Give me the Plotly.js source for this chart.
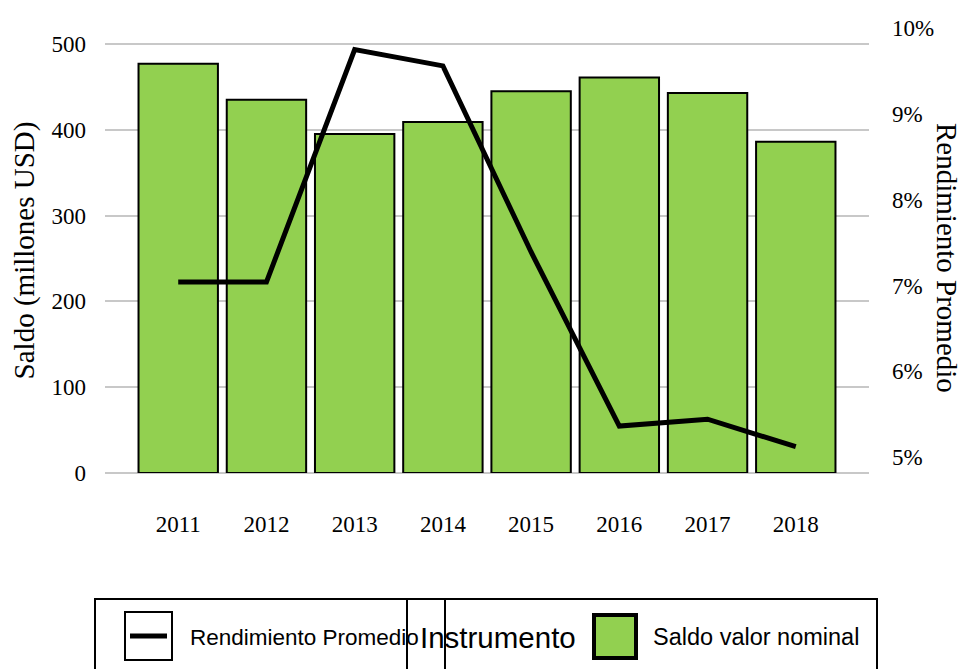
<!DOCTYPE html>
<html>
<head>
<meta charset="utf-8">
<script src="https://cdn.plot.ly/plotly-3.0.1.min.js"></script>
<style>html,body{margin:0;padding:0;background:#fff;}#chart{width:963px;height:669px;}</style>
</head>
<body>
<div id="chart"></div>
<script>
// ---- data ----
const years = ['2011','2012','2013','2014','2015','2016','2017','2018'];
const saldo = [477, 435, 395, 409, 445, 461, 443, 386];           // millones USD
const rendimiento = [0.0704, 0.0704, 0.0975, 0.0956, 0.0739, 0.0536, 0.0544, 0.0512];
const leftTicks = [0, 100, 200, 300, 400, 500];
const rightTicks = [0.05, 0.06, 0.07, 0.08, 0.09, 0.10];
const legendLabels = ['Rendimiento Promedio', 'Instrumento', 'Saldo valor nominal'];
const titleLeft = 'Saldo (millones USD)';
const titleRight = 'Rendimiento Promedio';

// ---- layout helpers (plot area in pixels) ----
const W = 963, H = 669;
const PL = 105, PR = 869, PT = 28, PB = 473;
const px = x => (x - PL) / (PR - PL);
const py = y => (PB - y) / (PB - PT);

const serif = 'Liberation Serif, Times New Roman, serif';
const sans = 'Liberation Sans, Arial, sans-serif';
const green = '#92D050';

const traces = [
  {
    type: 'bar', x: years, y: saldo, name: legendLabels[2],
    marker: {color: green, line: {color: '#000', width: 2}},
    width: 0.9, showlegend: false, hoverinfo: 'x+y'
  },
  {
    type: 'scatter', mode: 'lines', x: years, y: rendimiento, yaxis: 'y2',
    name: legendLabels[0], line: {color: '#000', width: 5},
    showlegend: false
  }
];

const shapes = [
  // legend outer frame
  {type: 'rect', xref: 'paper', yref: 'paper', x0: px(95), x1: px(877), y0: py(599), y1: py(720),
   line: {color: '#000', width: 2}, fillcolor: 'rgba(0,0,0,0)'},
  // line key box
  {type: 'rect', xref: 'paper', yref: 'paper', x0: px(125), x1: px(172), y0: py(612), y1: py(660),
   line: {color: '#000', width: 2}, fillcolor: '#fff'},
  {type: 'line', xref: 'paper', yref: 'paper', x0: px(130), x1: px(167), y0: py(636), y1: py(636),
   line: {color: '#000', width: 5}},
  // title box
  {type: 'rect', xref: 'paper', yref: 'paper', x0: px(407), x1: px(445), y0: py(599), y1: py(720),
   line: {color: '#000', width: 2}, fillcolor: 'rgba(0,0,0,0)'},
  // bar key box
  {type: 'rect', xref: 'paper', yref: 'paper', x0: px(594), x1: px(636), y0: py(615), y1: py(658),
   line: {color: '#000', width: 4}, fillcolor: green}
];

const annotations = [
  {xref: 'paper', yref: 'paper', x: px(947), y: py(258), text: titleRight, showarrow: false,
   textangle: 90, font: {family: serif, size: 29, color: '#000'}, xanchor: 'center', yanchor: 'middle'},
  {xref: 'paper', yref: 'paper', x: px(188), y: py(637), text: legendLabels[0], showarrow: false,
   xanchor: 'left', yanchor: 'middle', font: {family: sans, size: 22.5, color: '#000'}},
  {xref: 'paper', yref: 'paper', x: px(418), y: py(637), text: legendLabels[1], showarrow: false,
   xanchor: 'left', yanchor: 'middle', font: {family: sans, size: 29.5, color: '#000'}},
  {xref: 'paper', yref: 'paper', x: px(651), y: py(637), text: legendLabels[2], showarrow: false,
   xanchor: 'left', yanchor: 'middle', font: {family: sans, size: 23.5, color: '#000'}}
];

const layout = {
  width: W, height: H,
  margin: {l: PL, r: W - PR, t: PT, b: H - PB, pad: 0},
  paper_bgcolor: '#fff', plot_bgcolor: '#fff',
  showlegend: false,
  bargap: 0.1,
  xaxis: {
    type: 'category', range: [-0.83, 7.83], showgrid: false, zeroline: false, showline: false,
    ticks: '', ticklabelstandoff: 35,
    tickfont: {family: serif, size: 23, color: '#000'}
  },
  yaxis: {
    range: [0, 500 * (PB - PT) / (PB - 44)], tickvals: leftTicks, ticktext: leftTicks.map(String),
    showgrid: true, gridcolor: '#c8c8c8', gridwidth: 2,
    zeroline: true, zerolinecolor: '#c8c8c8', zerolinewidth: 2, showline: false, ticks: '',
    ticklabelstandoff: 18,
    tickfont: {family: serif, size: 23, color: '#000'},
    title: {text: titleLeft, font: {family: serif, size: 29, color: '#000'}, standoff: 8}
  },
  yaxis2: {
    overlaying: 'y', side: 'right', range: [0.04813, 0.10002], tickvals: rightTicks,
    tickformat: '.0%', showgrid: false, zeroline: false, showline: false, ticks: '',
    ticklabelstandoff: 22,
    tickfont: {family: serif, size: 23, color: '#000'}
  },
  shapes: shapes,
  annotations: annotations
};

Plotly.newPlot('chart', traces, layout, {displayModeBar: false, staticPlot: true});
</script>
</body>
</html>
